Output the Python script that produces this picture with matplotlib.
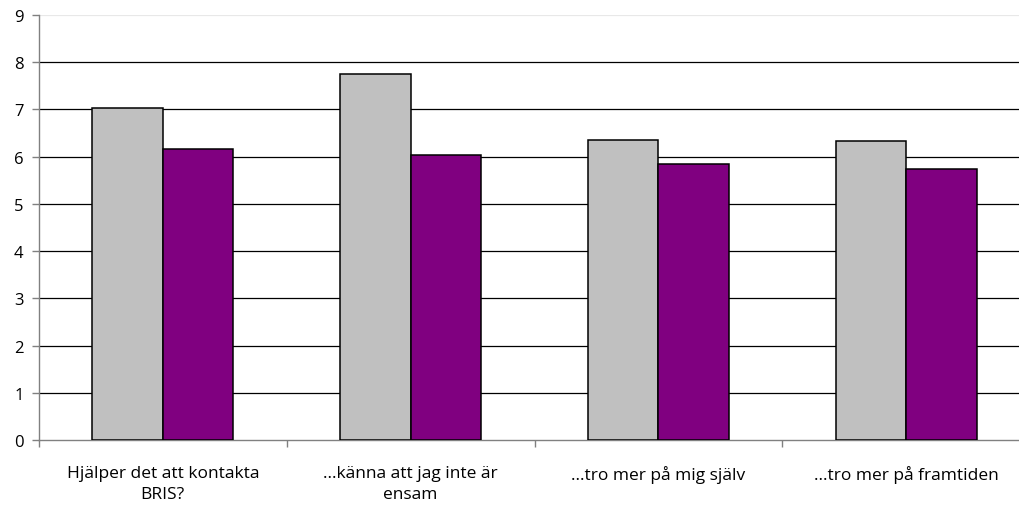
import matplotlib
matplotlib.use("Agg")
import matplotlib.pyplot as plt
import numpy as np

categories = ["Hjälper det att kontakta\nBRIS?", "…känna att jag inte är\nensam",
              "…tro mer på mig själv", "…tro mer på framtiden"]
series_gray = [7.03, 7.75, 6.36, 6.33]
series_purple = [6.17, 6.04, 5.84, 5.74]
yticks = list(range(0, 10))

plt.rcParams['font.family'] = ['Open Sans', 'DejaVu Sans']

W, H = 1019, 506
fig = plt.figure(figsize=(W / 100, H / 100), dpi=100)
left, right, top, bottom = 39, 1030, 16, 441
ax = fig.add_axes([left / W, (H - bottom) / H, (right - left) / W, (bottom - top) / H])

x = np.arange(len(categories))
w = 0.285
ax.bar(x - w / 2, series_gray, w, color="#C0C0C0", edgecolor="black", linewidth=1.1, zorder=3)
ax.bar(x + w / 2, series_purple, w, color="#800080", edgecolor="black", linewidth=1.1, zorder=3)

ax.set_xlim(-0.5, len(categories) - 0.5)
ax.set_ylim(0, 9)
ax.set_yticks(yticks)
ax.set_yticklabels([str(v) for v in yticks], fontsize=12)
for v in yticks[1:-1]:
    ax.axhline(v, color="black", linewidth=0.9, zorder=1)
ax.axhline(9, color="#E8E8E8", linewidth=0.9, zorder=1)

ax.set_xticks(np.arange(-0.5, len(categories), 1.0))
ax.set_xticklabels([])
ax.set_xticks(x, minor=True)
ax.set_xticklabels(categories, minor=True, fontsize=12.5, linespacing=1.45)
ax.tick_params(axis='x', which='minor', length=0, pad=18)
ax.tick_params(axis='x', which='major', length=5, color="#808080", width=1)
ax.tick_params(axis='y', length=5, color="#808080", width=1, pad=6)

for s in ["top", "right"]:
    ax.spines[s].set_visible(False)
ax.spines["left"].set_color("#808080")
ax.spines["bottom"].set_color("#808080")
ax.spines["left"].set_linewidth(1)
ax.spines["bottom"].set_linewidth(1)

fig.savefig("out.png", dpi=100)
